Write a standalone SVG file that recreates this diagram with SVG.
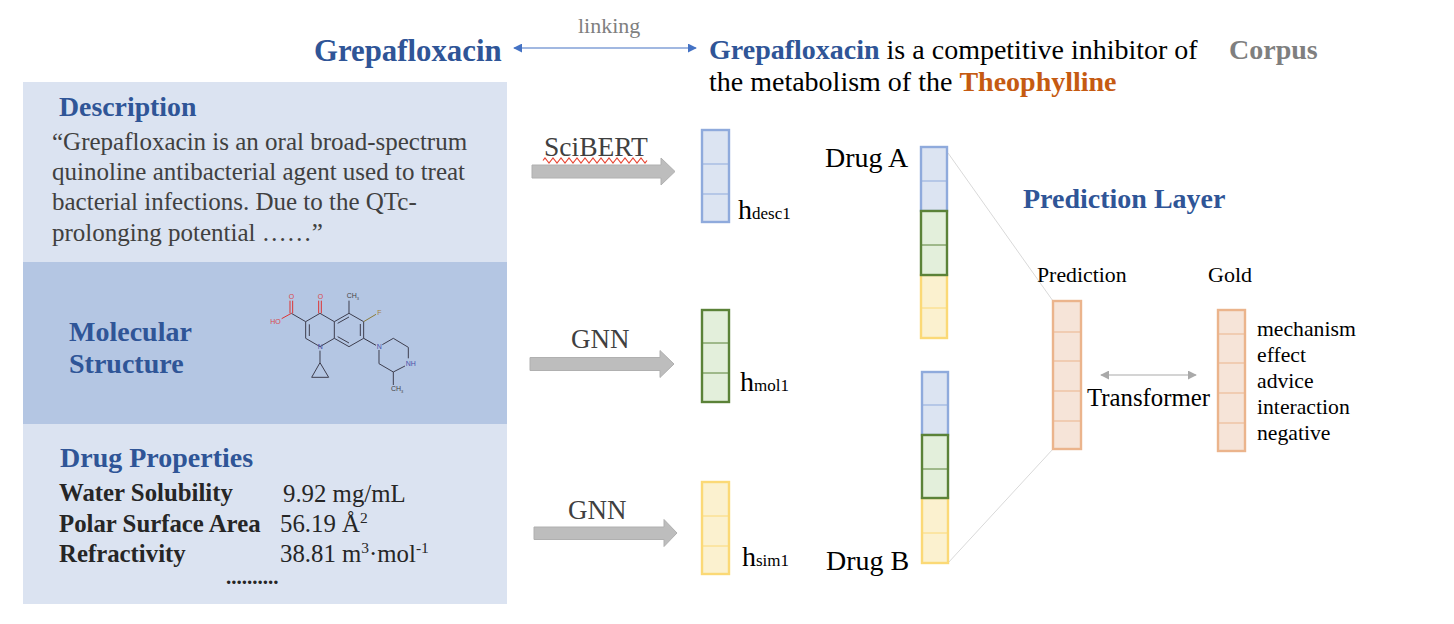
<svg xmlns="http://www.w3.org/2000/svg" width="1454" height="624" viewBox="0 0 1454 624">
<style>
text{font-family:"Liberation Serif","Times New Roman",serif}
.h{font-weight:bold;fill:#2F5597}
.g{fill:#404040}
.b{fill:#DCE4F2;stroke:#8FAADC}
.gr{fill:#E3EFDB;stroke:#5B8238}
.y{fill:#FBF1CF;stroke:#FBD976}
.o{fill:#F6E4D8;stroke:#EBB48C}
.bar rect{stroke-width:2.4}
.bar line{stroke-width:1}
.bl line{stroke:#8FAADC}.gl line{stroke:#5B8238}.yl line{stroke:#FBD976}.ol line{stroke:#EBB48C}
.fa{fill:#BDBDBD;stroke:#B0B0B0;stroke-width:1}
.m line,.m polyline,.m polygon{fill:none;stroke:#3d3d4d;stroke-width:3}
.m text{font-family:"Liberation Sans",sans-serif;font-size:21px}
</style>
<defs>
<marker id="ab" viewBox="0 0 10 10" refX="9" refY="5" markerWidth="9" markerHeight="9" markerUnits="userSpaceOnUse" orient="auto-start-reverse"><path d="M0 0L10 5L0 10Z" fill="#4472C4"/></marker>
<marker id="ag" viewBox="0 0 10 10" refX="9" refY="5" markerWidth="9" markerHeight="9" markerUnits="userSpaceOnUse" orient="auto-start-reverse"><path d="M0 0L10 5L0 10Z" fill="#A9A9A9"/></marker>
</defs>
<rect width="1454" height="624" fill="#fff"/>

<g id="panel-description">
<rect x="23" y="82" width="484" height="180" fill="#DBE3F1"/>
<text x="59" y="116" class="h" font-size="27.800">Description</text>
<text class="g" font-size="25"><tspan x="52" y="150">“Grepafloxacin is an oral broad-spectrum</tspan><tspan x="52" y="180">quinoline antibacterial agent used to treat</tspan><tspan x="52" y="210">bacterial infections. Due to the QTc-</tspan><tspan x="52" y="241">prolonging potential ……”</tspan></text>
</g>
<g id="panel-structure">
<rect x="23" y="262" width="484" height="162" fill="#B4C6E3"/>
<text class="h" font-size="28"><tspan x="69" y="341">Molecular</tspan><tspan x="69" y="373">Structure</tspan></text>
<g class="m" transform="translate(240 270) scale(.3333)">
<polyline points="197,155 197,205 240,230 283,205 283,155 240,130 197,155"/>
<polyline points="283,155 327,130 371,155 371,205 327,230 283,205"/>
<line x1="208" y1="163" x2="208" y2="198"/><line x1="293" y1="160" x2="327" y2="141"/><line x1="361" y1="162" x2="361" y2="198"/><line x1="293" y1="200" x2="327" y2="219"/>
<line x1="236" y1="130" x2="236" y2="92" style="stroke:#d33"/><line x1="244" y1="130" x2="244" y2="92" style="stroke:#d33"/><line x1="327" y1="130" x2="327" y2="92"/>
<line x1="197" y1="155" x2="154" y2="130"/><line x1="154" y1="130" x2="125" y2="146" style="stroke:#d33"/>
<line x1="150" y1="130" x2="150" y2="92" style="stroke:#d33"/><line x1="158" y1="130" x2="158" y2="92" style="stroke:#d33"/>
<line x1="371" y1="155" x2="408" y2="133" style="stroke:#8a7a3a"/>
<line x1="371" y1="205" x2="408" y2="226" style="stroke:#334"/>
<polyline points="427,224 460,205 505,232 505,265"/>
<polyline points="417,240 417,281 460,306 495,288"/>
<line x1="460" y1="306" x2="460" y2="345"/>
<line x1="240" y1="242" x2="240" y2="278"/>
<polygon points="240,278 215,322 266,322"/>
<text x="146" y="87" fill="#d9484b">O</text><text x="233" y="87" fill="#d9484b">O</text><text x="91" y="161" fill="#d9484b">HO</text>
<text x="320" y="85" fill="#444">CH<tspan font-size="12" dy="5">3</tspan></text>
<text x="412" y="135" fill="#a5803a">F</text>
<text x="233" y="238" fill="#4a4fa8">N</text><text x="410" y="236" fill="#4a4fa8">N</text><text x="497" y="288" fill="#4a4fa8">NH</text>
<text x="453" y="363" fill="#444">CH<tspan font-size="12" dy="5">3</tspan></text>
</g>
</g>
<g id="panel-properties">
<rect x="23" y="424" width="484" height="180" fill="#DBE3F1"/>
<text x="60" y="467" class="h" font-size="28">Drug Properties</text>
<text font-size="24.800" font-weight="bold" fill="#262626"><tspan x="59" y="501">Water Solubility</tspan><tspan x="59" y="532">Polar Surface Area</tspan><tspan x="59" y="562">Refractivity</tspan></text>
<text font-size="24.800" fill="#262626" x="283" y="502">9.92 mg/mL</text>
<text font-size="24.800" fill="#262626" x="280" y="532">56.19 Å<tspan font-size="15.500" dy="-9">2</tspan></text>
<text font-size="24.800" fill="#262626" x="280" y="562">38.81 m<tspan font-size="15.500" dy="-9">3</tspan><tspan dy="9">·mol</tspan><tspan font-size="15.500" dy="-9">-1</tspan></text>
<text font-size="21" font-weight="bold" fill="#262626" x="226" y="584">..........</text>
</g>

<g id="header">
<text x="314" y="61" class="h" font-size="30.800">Grepafloxacin</text>
<text x="578" y="33" font-size="22" fill="#7F7F7F">linking</text>
<text x="709" y="59" font-size="28"><tspan class="h">Grepafloxacin</tspan> is a competitive inhibitor of</text>
<text x="709" y="91" font-size="28">the metabolism of the <tspan font-weight="bold" fill="#C55A11">Theophylline</tspan></text>
<text x="1229" y="59" font-size="28" font-weight="bold" fill="#7F7F7F">Corpus</text>
</g>

<g id="connectors">
<line x1="514" y1="48" x2="696" y2="48" stroke="#4472C4" stroke-width="1.2" marker-start="url(#ab)" marker-end="url(#ab)"/>
<path class="fa" d="M532 165H661V158L675 171.500L661 185V178H532Z"/>
<path class="fa" d="M530 357.500H660V350.500L674 364L660 377.500V370.500H530Z"/>
<path class="fa" d="M534 527H664V519.500L677 533L664 546.500V539.500H534Z"/>
<line x1="948" y1="153" x2="1053" y2="301" stroke="#D9D9D9" stroke-width="1"/>
<line x1="948" y1="563" x2="1053" y2="449" stroke="#D9D9D9" stroke-width="1"/>
<line x1="1101" y1="375" x2="1196" y2="375" stroke="#A9A9A9" stroke-width="1.2" marker-start="url(#ag)" marker-end="url(#ag)"/>
</g>

<g id="scibert-label"><text x="544" y="156" font-size="27.500" class="g">SciBERT</text>
<path d="M543 160.500l2-2.500 2 2.500 2 2.500 2-2.500 2-2.500 2 2.500 2 2.500 2-2.500 2-2.500 2 2.500 2 2.500 2-2.500 2-2.500 2 2.500 2 2.500 2-2.500 2-2.500 2 2.500 2 2.500 2-2.500 2-2.500 2 2.500 2 2.500 2-2.500 2-2.500 2 2.500 2 2.500 2-2.500 2-2.500 2 2.500 2 2.500 2-2.500 2-2.500 2 2.500 2 2.500 2-2.500 2-2.500 2 2.500 2 2.500 2-2.500 2-2.500 2 2.500 2 2.500 2-2.500 2-2.500 2 2.500 2 2.500 2-2.500 2-2.500 2 2.500 2 2.500 2-2.500" fill="none" stroke="#E8422F" stroke-width="1.200"/></g>
<g id="gnn-label-1"><text x="571" y="348" font-size="27" class="g">GNN</text></g>
<g id="gnn-label-2"><text x="568" y="519" font-size="27" class="g">GNN</text></g>

<g id="h-desc1" class="bar bl"><rect x="702" y="130" width="27" height="92" class="b"/><line x1="702" y1="164" x2="729" y2="164"/><line x1="702" y1="194" x2="729" y2="194"/>
<text x="738" y="219" font-size="28">h<tspan font-size="17">desc1</tspan></text></g>
<g id="h-mol1" class="bar gl"><rect x="702" y="310" width="27" height="92" class="gr"/><line x1="702" y1="343" x2="729" y2="343"/><line x1="702" y1="373" x2="729" y2="373"/>
<text x="740" y="391" font-size="28">h<tspan font-size="17">mol1</tspan></text></g>
<g id="h-sim1" class="bar yl"><rect x="702" y="482" width="27" height="92" class="y"/><line x1="702" y1="516" x2="729" y2="516"/><line x1="702" y1="546" x2="729" y2="546"/>
<text x="742" y="566" font-size="28">h<tspan font-size="17">sim1</tspan></text></g>

<g id="drug-a" class="bar">
<text x="825" y="167" font-size="28">Drug A</text>
<g class="bl"><rect x="921" y="147" width="26" height="64" class="b"/><line x1="921" y1="181" x2="947" y2="181"/></g>
<g class="yl"><rect x="921" y="275" width="26" height="63" class="y"/><line x1="921" y1="308" x2="947" y2="308"/></g>
<g class="gl"><rect x="921" y="211" width="26" height="64" class="gr"/><line x1="921" y1="245" x2="947" y2="245"/></g>
</g>
<g id="drug-b" class="bar">
<text x="826" y="570" font-size="28">Drug B</text>
<g class="bl"><rect x="922" y="372" width="26" height="63" class="b"/><line x1="922" y1="405" x2="948" y2="405"/></g>
<g class="yl"><rect x="922" y="498" width="26" height="65" class="y"/><line x1="922" y1="533" x2="948" y2="533"/></g>
<g class="gl"><rect x="922" y="435" width="26" height="63" class="gr"/><line x1="922" y1="469" x2="948" y2="469"/></g>
</g>

<g id="prediction-layer"><text x="1023" y="208" class="h" font-size="28">Prediction Layer</text></g>
<g id="prediction" class="bar ol">
<text x="1037" y="282" font-size="21.800">Prediction</text>
<rect x="1053" y="301" width="28" height="148" class="o"/>
<line x1="1053" y1="332" x2="1081" y2="332"/><line x1="1053" y1="361" x2="1081" y2="361"/><line x1="1053" y1="391" x2="1081" y2="391"/><line x1="1053" y1="421" x2="1081" y2="421"/>
</g>
<g id="transformer"><text x="1087" y="406" font-size="24.800">Transformer</text></g>
<g id="gold" class="bar ol">
<text x="1208" y="282" font-size="22">Gold</text>
<rect x="1218" y="310" width="27" height="141" class="o"/>
<line x1="1218" y1="334" x2="1245" y2="334"/><line x1="1218" y1="363" x2="1245" y2="363"/><line x1="1218" y1="393" x2="1245" y2="393"/><line x1="1218" y1="423" x2="1245" y2="423"/>
<text font-size="21.700"><tspan x="1257" y="336">mechanism</tspan><tspan x="1257" y="362">effect</tspan><tspan x="1257" y="388">advice</tspan><tspan x="1257" y="414">interaction</tspan><tspan x="1257" y="440">negative</tspan></text>
</g>
</svg>
